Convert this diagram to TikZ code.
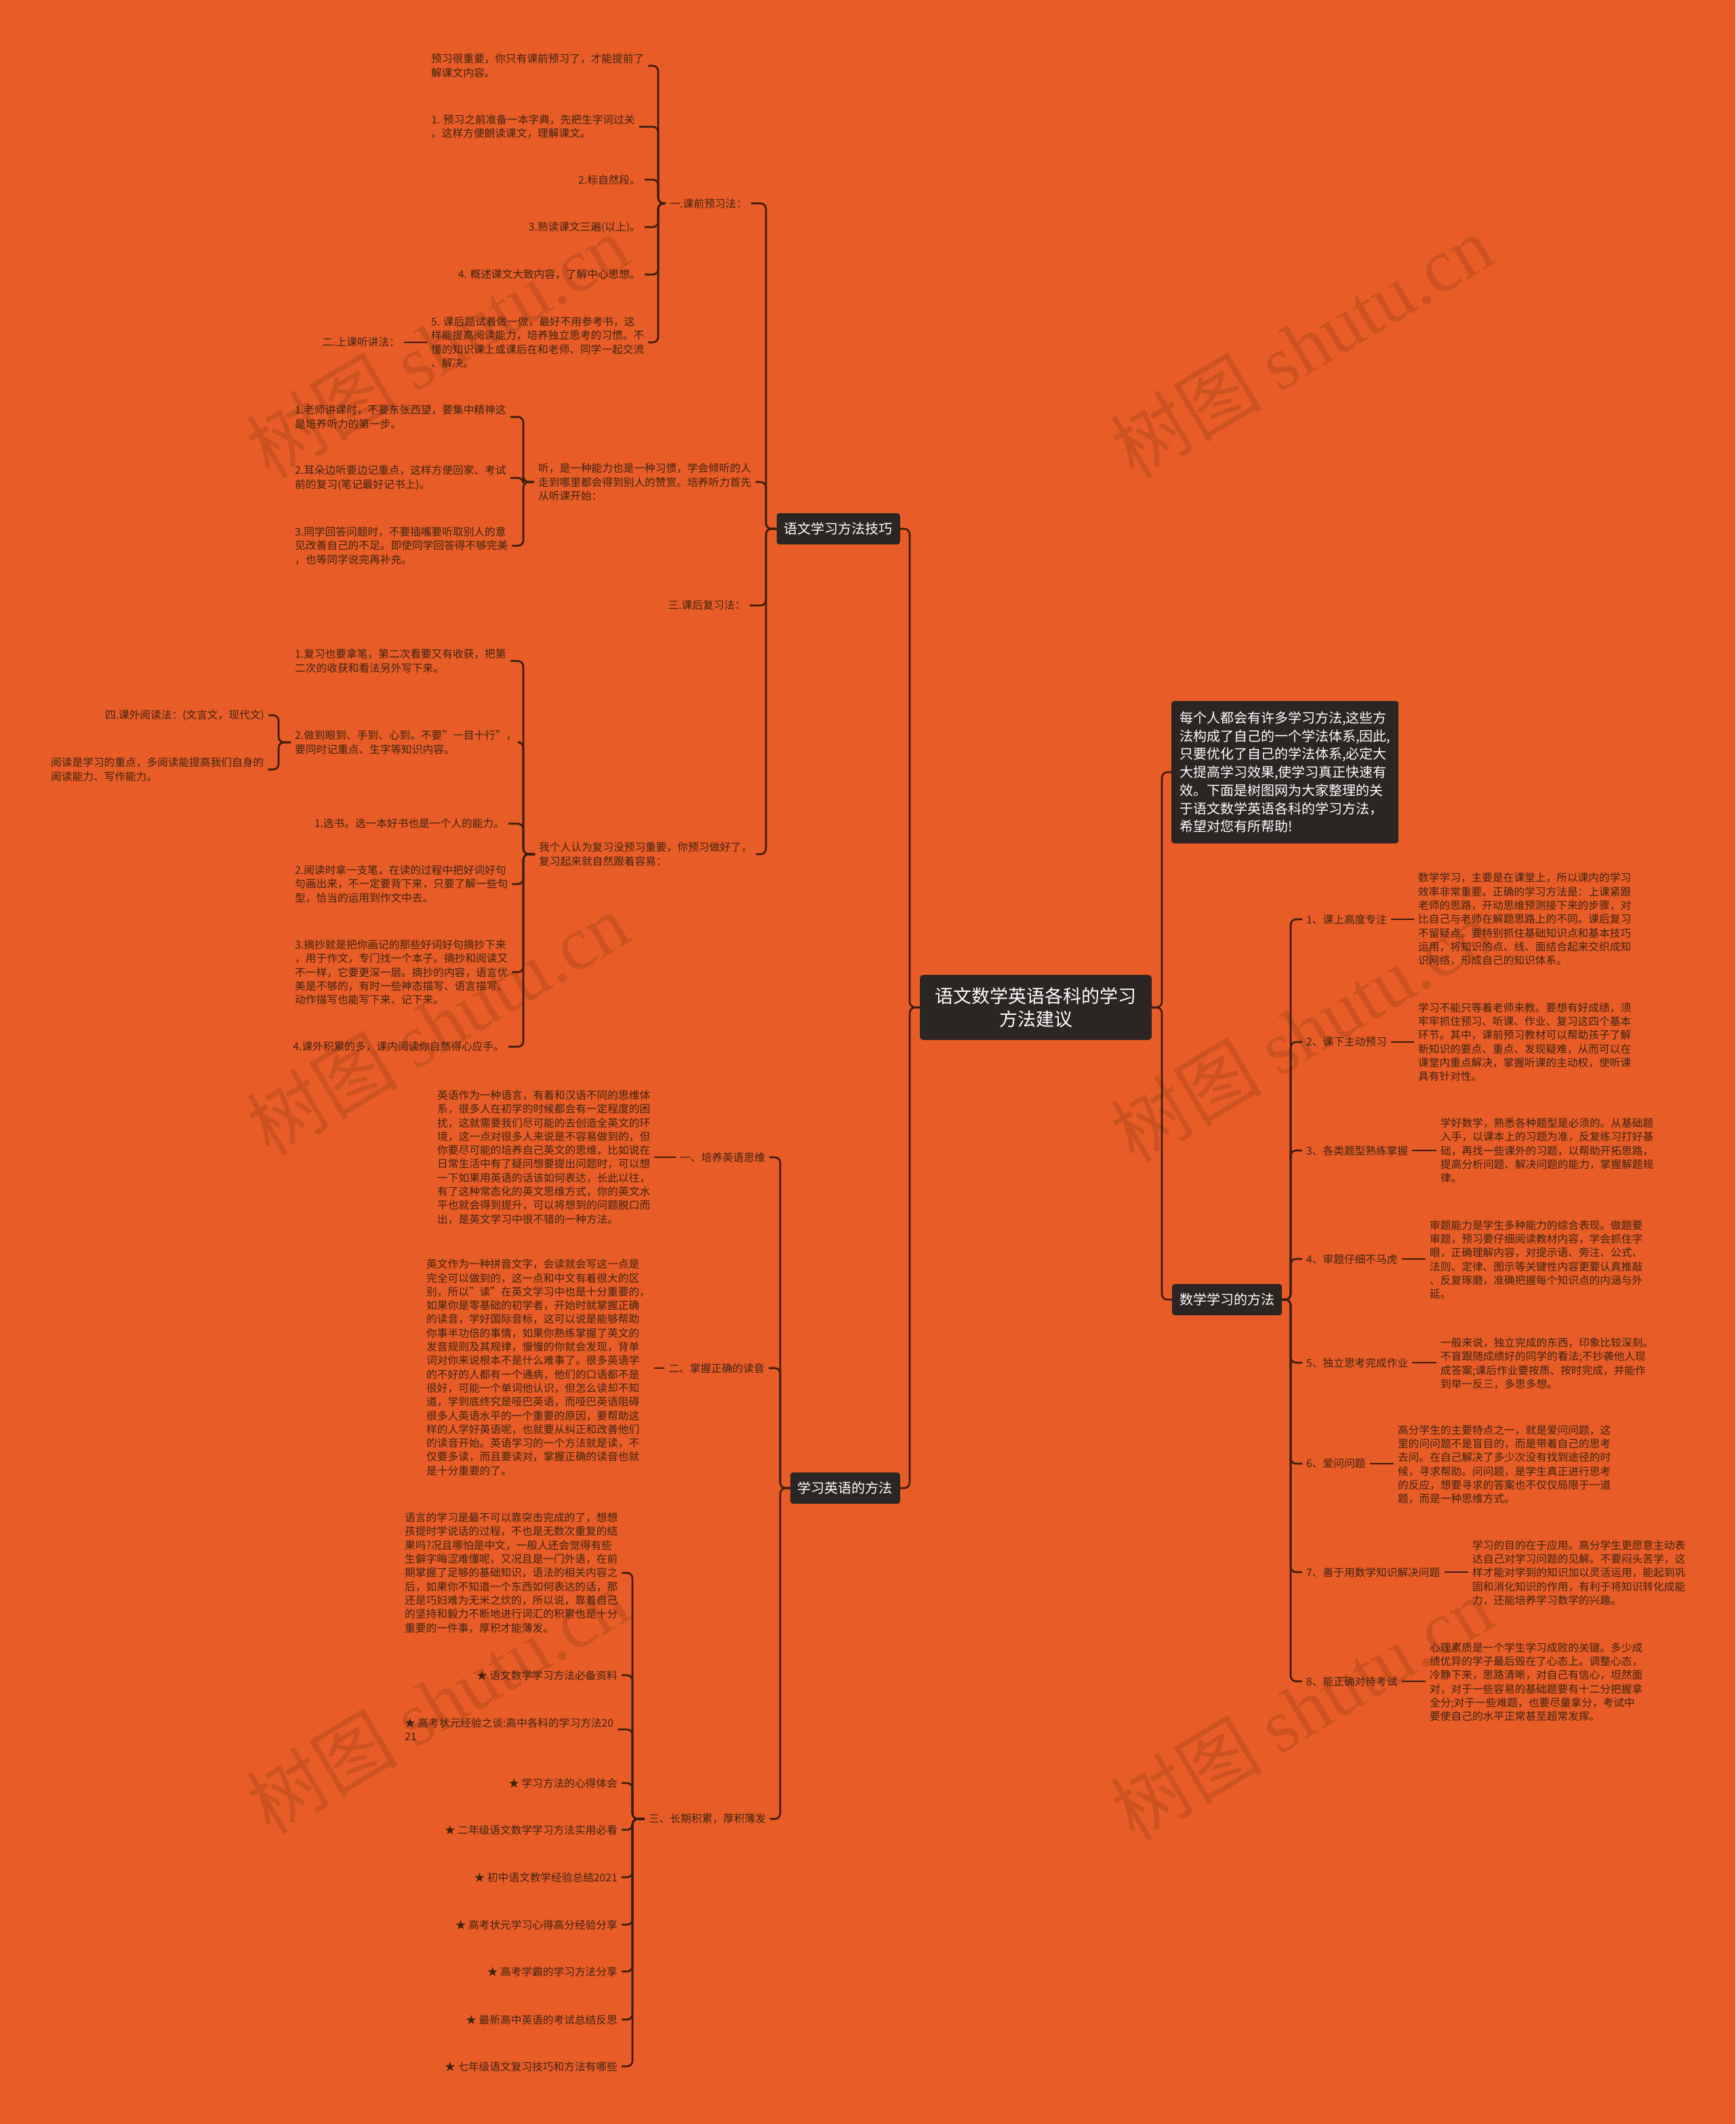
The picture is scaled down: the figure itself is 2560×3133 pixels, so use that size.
\documentclass[tikz,border=0pt]{standalone}
\usepackage{fontspec}
\setmainfont{Noto Sans CJK SC}
\newfontfamily\wmlatin{Liberation Serif}
\definecolor{bgorange}{HTML}{E85D27}
\definecolor{boxdark}{HTML}{2B2624}
\definecolor{linebrown}{HTML}{3A1C0C}
\definecolor{textbrown}{HTML}{3F2313}

\begin{document}
\begin{tikzpicture}[x=1pt, y=-1pt,
  conn/.style={draw=linebrown, line width=2.6pt, rounded corners=8pt},
  leaf/.style={text=textbrown, font=\fontsize{15.7}{20.3}\selectfont, align=left, inner xsep=6pt, inner ysep=1pt},
  topic/.style={fill=boxdark, text=white, rounded corners=4pt, font=\fontsize{20}{24}\selectfont, inner xsep=11pt, minimum height=46pt},
  rootbox/.style={fill=boxdark, text=white, rounded corners=5pt, font=\fontsize{27}{34}\selectfont, align=center, minimum width=342pt, minimum height=96pt},
  introbox/.style={fill=boxdark, text=white, rounded corners=4pt, font=\fontsize{20}{26.7}\selectfont, align=left, inner xsep=10pt, minimum width=335pt, minimum height=210pt},
  wmark/.style={text=linebrown, text opacity=0.16, rotate=31, font=\fontsize{112}{112}\selectfont}
]
  % Canvas
  \fill[bgorange] (0,0) rectangle (2560,3133);
  \useasboundingbox (0,0) rectangle (2560,3133);
  % Watermarks
  \foreach \wx/\wy in {645/510, 1920/510, 645/1510, 1920/1520, 645/2510, 1920/2520}{
    \node[wmark] (wm) at (\wx,\wy) {树图 {\wmlatin shutu.cn}};
  }
  % Root
  \node[rootbox] (root) at (1528,1486) {语文数学英语各科的学习\\方法建议};
  \coordinate (vL) at (1342,0);
  \coordinate (vR) at (1714,0);

  % Right: intro + maths
  \node[introbox, anchor=west] (intro) at (1728,1139) {每个人都会有许多学习方法,这些方\\法构成了自己的一个学法体系,因此,\\只要优化了自己的学法体系,必定大\\大提高学习效果,使学习真正快速有\\效。下面是树图网为大家整理的关\\于语文数学英语各科的学习方法，\\希望对您有所帮助!};
  \node[topic, anchor=west] (math) at (1729,1917) {数学学习的方法};
  \coordinate (vM) at (1904,0);
  \node[leaf, anchor=west] (ml1) at (1921,1356) {1、课上高度专注};
  \node[leaf, anchor=west] (ml2) at (1921,1537) {2、课下主动预习};
  \node[leaf, anchor=west] (ml3) at (1921,1697) {3、各类题型熟练掌握};
  \node[leaf, anchor=west] (ml4) at (1921,1857) {4、审题仔细不马虎};
  \node[leaf, anchor=west] (ml5) at (1921,2010) {5、独立思考完成作业};
  \node[leaf, anchor=west] (ml6) at (1921,2159) {6、爱问问题};
  \node[leaf, anchor=west] (ml7) at (1921,2319) {7、善于用数学知识解决问题};
  \node[leaf, anchor=west] (ml8) at (1921,2480) {8、能正确对待考试};
  \node[leaf, anchor=west] (md1) at (2086,1356) {数学学习，主要是在课堂上，所以课内的学习\\效率非常重要。正确的学习方法是：上课紧跟\\老师的思路，开动思维预测接下来的步骤，对\\比自己与老师在解题思路上的不同。课后复习\\不留疑点。要特别抓住基础知识点和基本技巧\\运用，将知识的点、线、面结合起来交织成知\\识网络，形成自己的知识体系。};
  \node[leaf, anchor=west] (md2) at (2086,1537) {学习不能只等着老师来教。要想有好成绩，须\\牢牢抓住预习、听课、作业、复习这四个基本\\环节。其中，课前预习教材可以帮助孩子了解\\新知识的要点、重点、发现疑难，从而可以在\\课堂内重点解决，掌握听课的主动权，使听课\\具有针对性。};
  \node[leaf, anchor=west] (md3) at (2119,1697) {学好数学，熟悉各种题型是必须的。从基础题\\入手，以课本上的习题为准，反复练习打好基\\础，再找一些课外的习题，以帮助开拓思路，\\提高分析问题、解决问题的能力，掌握解题规\\律。};
  \node[leaf, anchor=west] (md4) at (2103,1858) {审题能力是学生多种能力的综合表现。做题要\\审题，预习要仔细阅读教材内容，学会抓住字\\眼，正确理解内容，对提示语、旁注、公式、\\法则、定律、图示等关键性内容更要认真推敲\\、反复琢磨，准确把握每个知识点的内涵与外\\延。};
  \node[leaf, anchor=west] (md5) at (2119,2011) {一般来说，独立完成的东西，印象比较深刻。\\不盲跟随成绩好的同学的看法;不抄袭他人现\\成答案;课后作业要按质、按时完成，并能作\\到举一反三，多思多想。};
  \node[leaf, anchor=west] (md6) at (2056,2160) {高分学生的主要特点之一，就是爱问问题，这\\里的问问题不是盲目的，而是带着自己的思考\\去问。在自己解决了多少次没有找到途径的时\\候，寻求帮助。问问题，是学生真正进行思考\\的反应，想要寻求的答案也不仅仅局限于一道\\题，而是一种思维方式。};
  \node[leaf, anchor=west] (md7) at (2166,2320) {学习的目的在于应用。高分学生更愿意主动表\\达自己对学习问题的见解。不要闷头苦学，这\\样才能对学到的知识加以灵活运用，能起到巩\\固和消化知识的作用，有利于将知识转化成能\\力，还能培养学习数学的兴趣。};
  \node[leaf, anchor=west] (md8) at (2103,2481) {心理素质是一个学生学习成败的关键。多少成\\绩优异的学子最后毁在了心态上。调整心态，\\冷静下来，思路清晰，对自己有信心，坦然面\\对，对于一些容易的基础题要有十二分把握拿\\全分;对于一些难题，也要尽量拿分，考试中\\要使自己的水平正常甚至超常发挥。};

  % Left: Chinese
  \node[topic, anchor=east] (chin) at (1328,780) {语文学习方法技巧};
  \coordinate (vC) at (1130,0);
  \node[leaf, anchor=east] (c1) at (1108,300) {一.课前预习法：};
  \node[leaf, anchor=west] (c2) at (788,711) {听，是一种能力也是一种习惯，学会倾听的人\\走到哪里都会得到别人的赞赏。培养听力首先\\从听课开始：};
  \node[leaf, anchor=east] (c3) at (1106,893) {三.课后复习法：};
  \node[leaf, anchor=west] (c4) at (789,1260) {我个人认为复习没预习重要，你预习做好了，\\复习起来就自然跟着容易：};
  % pre-class group
  \coordinate (vA) at (971,0);
  \node[leaf, anchor=west] (a1) at (630,97) {预习很重要，你只有课前预习了，才能提前了\\解课文内容。};
  \node[leaf, anchor=west] (a2) at (630,187) {1. 预习之前准备一本字典，先把生字词过关\\。这样方便朗读课文，理解课文。};
  \node[leaf, anchor=east] (a3) at (951,265) {2.标自然段。};
  \node[leaf, anchor=east] (a4) at (951,335) {3.熟读课文三遍(以上)。};
  \node[leaf, anchor=east] (a5) at (951,405) {4. 概述课文大致内容，了解中心思想。};
  \node[leaf, anchor=west] (a6) at (630,505) {5. 课后题试着做一做，最好不用参考书，这\\样能提高阅读能力，培养独立思考的习惯。不\\懂的知识课上或课后在和老师、同学一起交流\\、解决。};
  \node[leaf, anchor=east] (lec) at (596,505) {二.上课听讲法：};
  % listening group
  \coordinate (vB) at (772,0);
  \node[leaf, anchor=west] (b1) at (429,615) {1.老师讲课时，不要东张西望，要集中精神这\\是培养听力的第一步。};
  \node[leaf, anchor=west] (b2) at (429,705) {2.耳朵边听要边记重点，这样方便回家、考试\\前的复习(笔记最好记书上)。};
  \node[leaf, anchor=west] (b3) at (429,805) {3.同学回答问题时，不要插嘴要听取别人的意\\见改善自己的不足。即使同学回答得不够完美\\，也等同学说完再补充。};
  % review group
  \node[leaf, anchor=west] (d1) at (429,975) {1.复习也要拿笔，第二次看要又有收获，把第\\二次的收获和看法另外写下来。};
  \node[leaf, anchor=west] (d2) at (429,1095) {2.做到眼到、手到、心到。不要"一目十行"，\\要同时记重点、生字等知识内容。};
  \node[leaf, anchor=east] (d3) at (750,1215) {1.选书。选一本好书也是一个人的能力。};
  \node[leaf, anchor=west] (d4) at (429,1304) {2.阅读时拿一支笔，在读的过程中把好词好句\\句画出来，不一定要背下来，只要了解一些句\\型，恰当的运用到作文中去。};
  \node[leaf, anchor=west] (d5) at (429,1434) {3.摘抄就是把你画记的那些好词好句摘抄下来\\，用于作文，专门找一个本子。摘抄和阅读又\\不一样，它要更深一层。摘抄的内容，语言优\\美是不够的，有时一些神态描写、语言描写、\\动作描写也能写下来、记下来。};
  \node[leaf, anchor=east] (d6) at (750,1544) {4.课外积累的多，课内阅读你自然得心应手。};
  \coordinate (vD) at (411,0);
  \node[leaf, anchor=east] (e1) at (396,1055) {四.课外阅读法：(文言文，现代文)};
  \node[leaf, anchor=west] (e2) at (69,1135) {阅读是学习的重点，多阅读能提高我们自身的\\阅读能力、写作能力。};

  % Left: English
  \node[topic, anchor=east] (eng) at (1328,2195) {学习英语的方法};
  \coordinate (vE) at (1151,0);
  \node[leaf, anchor=east] (el1) at (1135,1707) {一、培养英语思维};
  \node[leaf, anchor=east] (el2) at (1134,2018) {二、掌握正确的读音};
  \node[leaf, anchor=east] (el3) at (1136,2683) {三、长期积累，厚积薄发};
  \node[leaf, anchor=west] (ed1) at (639,1707) {英语作为一种语言，有着和汉语不同的思维体\\系，很多人在初学的时候都会有一定程度的困\\扰，这就需要我们尽可能的去创造全英文的环\\境，这一点对很多人来说是不容易做到的，但\\你要尽可能的培养自己英文的思维，比如说在\\日常生活中有了疑问想要提出问题时，可以想\\一下如果用英语的话该如何表达，长此以往，\\有了这种常态化的英文思维方式，你的英文水\\平也就会得到提升，可以将想到的问题脱口而\\出，是英文学习中很不错的一种方法。};
  \node[leaf, anchor=west] (ed2) at (623,2017) {英文作为一种拼音文字，会读就会写这一点是\\完全可以做到的，这一点和中文有着很大的区\\别，所以"读"在英文学习中也是十分重要的，\\如果你是零基础的初学者，开始时就掌握正确\\的读音，学好国际音标，这可以说是能够帮助\\你事半功倍的事情，如果你熟练掌握了英文的\\发音规则及其规律，慢慢的你就会发现，背单\\词对你来说根本不是什么难事了。很多英语学\\的不好的人都有一个通病，他们的口语都不是\\很好，可能一个单词他认识，但怎么读却不知\\道，学到底终究是哑巴英语，而哑巴英语阻碍\\很多人英语水平的一个重要的原因，要帮助这\\样的人学好英语呢，也就要从纠正和改善他们\\的读音开始。英语学习的一个方法就是读，不\\仅要多读，而且要读对，掌握正确的读音也就\\是十分重要的了。};
  \coordinate (vF) at (933,0);
  \node[leaf, anchor=west] (g1) at (591,2320) {语言的学习是最不可以靠突击完成的了，想想\\孩提时学说话的过程，不也是无数次重复的结\\果吗?况且哪怕是中文，一般人还会觉得有些\\生僻字晦涩难懂呢，又况且是一门外语，在前\\期掌握了足够的基础知识，语法的相关内容之\\后，如果你不知道一个东西如何表达的话，那\\还是巧妇难为无米之炊的，所以说，靠着自己\\的坚持和毅力不断地进行词汇的积累也是十分\\重要的一件事，厚积才能薄发。};
  \node[leaf, anchor=east] (g2) at (917,2471) {★ 语文数学学习方法必备资料};
  \node[leaf, anchor=west] (g3) at (591,2551) {★ 高考状元经验之谈:高中各科的学习方法20\\21};
  \node[leaf, anchor=east] (g4) at (917,2630) {★ 学习方法的心得体会};
  \node[leaf, anchor=east] (g5) at (917,2699) {★ 二年级语文数学学习方法实用必看};
  \node[leaf, anchor=east] (g6) at (917,2769) {★ 初中语文教学经验总结2021};
  \node[leaf, anchor=east] (g7) at (917,2839) {★ 高考状元学习心得高分经验分享};
  \node[leaf, anchor=east] (g8) at (917,2908) {★ 高考学霸的学习方法分享};
  \node[leaf, anchor=east] (g9) at (917,2979) {★ 最新高中英语的考试总结反思};
  \node[leaf, anchor=east] (g10) at (917,3048) {★ 七年级语文复习技巧和方法有哪些};

  % Connectors
  \foreach \c in {chin,eng} \draw[conn] (root.west) -- (root.west -| vL) |- (\c.east);
  \foreach \c in {intro,math} \draw[conn] (root.east) -- (root.east -| vR) |- (\c.west);
  \foreach \i in {1,...,8}{
    \draw[conn] (math.east) -- (math.east -| vM) |- (ml\i.west);
    \draw[conn] (ml\i.east) -- (ml\i.east -| md\i.west);
  }
  \foreach \c in {c1,c2,c3,c4} \draw[conn] (chin.west) -- (chin.west -| vC) |- (\c.east);
  \foreach \c in {a1,a2,a3,a4,a5,a6} \draw[conn] (c1.west) -- (c1.west -| vA) |- (\c.east);
  \draw[conn] (lec.east) -- (lec.east -| a6.west);
  \foreach \c in {b1,b2,b3} \draw[conn] (c2.west) -- (c2.west -| vB) |- (\c.east);
  \foreach \c in {d1,d2,d3,d4,d5,d6} \draw[conn] (c4.west) -- (c4.west -| vB) |- (\c.east);
  \foreach \c in {e1,e2} \draw[conn] (d2.west) -- (d2.west -| vD) |- (\c.east);
  \foreach \c in {el1,el2,el3} \draw[conn] (eng.west) -- (eng.west -| vE) |- (\c.east);
  \draw[conn] (el1.west) -- (el1.west -| ed1.east);
  \draw[conn] (el2.west) -- (el2.west -| ed2.east);
  \foreach \c in {g1,g2,g3,g4,g5,g6,g7,g8,g9,g10} \draw[conn] (el3.west) -- (el3.west -| vF) |- (\c.east);
\end{tikzpicture}
\end{document}
